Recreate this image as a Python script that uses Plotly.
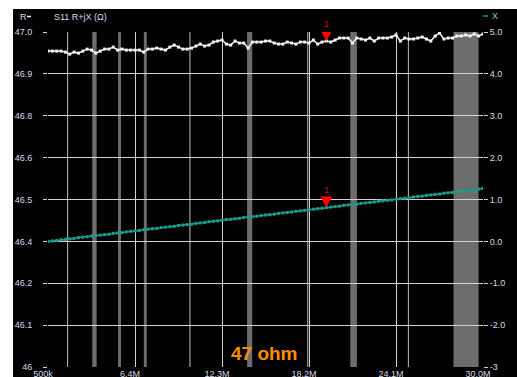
import numpy as np
import plotly.graph_objects as go

# Sweep settings (MHz)
F_START_MHZ = 0.5
F_STOP_MHZ = 30.0
N_POINTS = 101
freq_mhz = np.linspace(F_START_MHZ, F_STOP_MHZ, N_POINTS)

# S11 resistance (ohm)
resistance = [
    46.943, 46.943, 46.943, 46.943, 46.940, 46.934, 46.940, 46.937, 46.943, 46.949,
    46.946, 46.937, 46.943, 46.949, 46.949, 46.955, 46.946, 46.949, 46.946, 46.946,
    46.946, 46.946, 46.940, 46.949, 46.949, 46.952, 46.949, 46.946, 46.955, 46.961,
    46.955, 46.949, 46.949, 46.952, 46.958, 46.964, 46.958, 46.961, 46.970, 46.973,
    46.976, 46.964, 46.961, 46.973, 46.967, 46.967, 46.952, 46.970, 46.970, 46.970,
    46.973, 46.973, 46.967, 46.964, 46.964, 46.970, 46.967, 46.964, 46.970, 46.970,
    46.967, 46.976, 46.964, 46.970, 46.973, 46.970, 46.976, 46.982, 46.982, 46.982,
    46.967, 46.982, 46.979, 46.976, 46.982, 46.973, 46.982, 46.982, 46.982, 46.985,
    46.991, 46.973, 46.982, 46.979, 46.979, 46.982, 46.985, 46.979, 46.973, 46.988,
    46.997, 46.979, 46.982, 46.982, 46.988, 46.988, 46.991, 46.988, 46.994, 46.988,
    46.994,
]

# S11 reactance (ohm)
reactance = [
    0.00, 0.01, 0.02, 0.04, 0.05, 0.06, 0.07, 0.09, 0.10, 0.11,
    0.13, 0.14, 0.15, 0.16, 0.17, 0.19, 0.20, 0.21, 0.23, 0.24,
    0.25, 0.26, 0.28, 0.29, 0.30, 0.31, 0.33, 0.34, 0.35, 0.36,
    0.38, 0.39, 0.40, 0.41, 0.43, 0.44, 0.45, 0.47, 0.48, 0.49,
    0.50, 0.52, 0.53, 0.54, 0.55, 0.57, 0.58, 0.59, 0.60, 0.62,
    0.63, 0.64, 0.65, 0.67, 0.68, 0.69, 0.70, 0.72, 0.73, 0.74,
    0.75, 0.77, 0.78, 0.79, 0.81, 0.82, 0.83, 0.84, 0.86, 0.87,
    0.88, 0.89, 0.91, 0.92, 0.93, 0.94, 0.96, 0.97, 0.98, 0.99,
    1.01, 1.02, 1.03, 1.04, 1.06, 1.07, 1.08, 1.10, 1.11, 1.12,
    1.13, 1.15, 1.16, 1.17, 1.18, 1.20, 1.21, 1.22, 1.23, 1.25,
    1.26,
]

MARKER_INDEX = 64
MARKER_LABEL = "1"

x_tick_vals = [0.5, 6.4, 12.3, 18.2, 24.1, 30.0]
x_tick_text = ["500k", "6.4M", "12.3M", "18.2M", "24.1M", "30.0M"]

r_tick_vals = [46.0, 46.125, 46.25, 46.375, 46.5, 46.625, 46.75, 46.875, 47.0]
r_tick_text = ["46", "46.1", "46.2", "46.4", "46.5", "46.6", "46.8", "46.9", "47.0"]

jx_tick_vals = [-3, -2, -1, 0, 1, 2, 3, 4, 5]
jx_tick_text = ["-3", "-2.0", "-1.0", "0.0", "1.0", "2.0", "3.0", "4.0", "5.0"]

# Amateur bands highlighted on the sweep (MHz)
ham_bands = [
    (1.81, 1.85), (3.5, 3.8), (5.25, 5.45), (7.0, 7.2), (10.1, 10.15),
    (14.0, 14.35), (18.068, 18.168), (21.0, 21.45), (24.89, 24.99), (28.0, 29.7),
]

TITLE = "S11 R+jX (\u03a9)"
NOTE = "47 ohm"

# Page geometry (pixels)
W, H = 517, 377
PL, PR, PT, PB = 48, 483, 32, 367

GRID = "#d2d2d2"
FONT_FAMILY = "Liberation Sans, Arial, sans-serif"
TICK_FONT = dict(family=FONT_FAMILY, size=9, color="#d6dbe6")
R_COLOR = "#f2f2f2"
X_COLOR = "#1a9c8a"
BAND_COLOR = "#6c6c6c"


def px_x(p):
    return (p - PL) / (PR - PL)


def px_y(p):
    return (PB - p) / (PB - PT)


fig = go.Figure()

fig.add_trace(go.Scatter(
    x=freq_mhz, y=resistance, yaxis="y", mode="lines+markers",
    line=dict(color=R_COLOR, width=1.5),
    marker=dict(symbol="square", size=3, color=R_COLOR),
    name="R", hoverinfo="skip",
))
fig.add_trace(go.Scatter(
    x=freq_mhz, y=reactance, yaxis="y2", mode="lines+markers",
    line=dict(color=X_COLOR, width=1.5),
    marker=dict(symbol="square", size=3, color=X_COLOR),
    name="X", hoverinfo="skip",
))

shapes = []
# dark panel behind the whole chart
shapes.append(dict(type="rect", xref="paper", yref="paper",
                   x0=px_x(13), x1=px_x(W + 5), y0=px_y(H + 5), y1=px_y(9),
                   fillcolor="black", line=dict(width=0), layer="below"))

for lo, hi in ham_bands:
    if hi - lo < 0.12:
        mid = (lo + hi) / 2
        shapes.append(dict(type="line", xref="x", yref="paper", x0=mid, x1=mid,
                           y0=0, y1=1, line=dict(color="#bdbdbd", width=1), layer="below"))
    else:
        shapes.append(dict(type="rect", xref="x", yref="paper", x0=lo, x1=hi,
                           y0=0, y1=1, fillcolor=BAND_COLOR, line=dict(width=0), layer="below"))

# legend dashes
shapes.append(dict(type="line", xref="paper", yref="paper",
                   x0=px_x(27), x1=px_x(31), y0=px_y(16.5), y1=px_y(16.5),
                   line=dict(color="#f0f0f0", width=1.5)))
shapes.append(dict(type="line", xref="paper", yref="paper",
                   x0=px_x(483), x1=px_x(488), y0=px_y(16), y1=px_y(16),
                   line=dict(color=X_COLOR, width=1.5)))

# marker triangles on both traces
mf = freq_mhz[MARKER_INDEX]
for yref, val in (("y", resistance[MARKER_INDEX]), ("y2", reactance[MARKER_INDEX])):
    shapes.append(dict(type="path", xref="x", yref=yref,
                       xsizemode="pixel", ysizemode="pixel", xanchor=mf, yanchor=val,
                       path="M -6,11 L 6,11 L 0,0 Z",
                       fillcolor="#ff0000", line=dict(width=0)))

annotations = [
    dict(x=px_x(18), y=px_y(17), xref="paper", yref="paper", text="R",
         showarrow=False, xanchor="left", yanchor="middle",
         font=dict(family=FONT_FAMILY, size=9, color="#d6dbe6")),
    dict(x=px_x(52), y=px_y(17), xref="paper", yref="paper", text=TITLE,
         showarrow=False, xanchor="left", yanchor="middle",
         font=dict(family=FONT_FAMILY, size=9, color="#d6dbe6")),
    dict(x=px_x(490), y=px_y(16), xref="paper", yref="paper", text="X",
         showarrow=False, xanchor="left", yanchor="middle",
         font=dict(family=FONT_FAMILY, size=9, color="#a8c4cc")),
    dict(x=px_x(264), y=px_y(353), xref="paper", yref="paper", text="<b>" + NOTE + "</b>",
         showarrow=False, xanchor="center", yanchor="middle",
         font=dict(family=FONT_FAMILY, size=19, color="#ff8c00")),
]
for yref, val in (("y", resistance[MARKER_INDEX]), ("y2", reactance[MARKER_INDEX])):
    annotations.append(dict(x=mf, y=val, xref="x", yref=yref, text=MARKER_LABEL,
                            showarrow=False, yshift=17, xanchor="center", yanchor="middle",
                            font=dict(family=FONT_FAMILY, size=9, color="#e00000")))

fig.update_layout(
    width=W, height=H,
    margin=dict(l=PL, r=W - PR, t=PT, b=H - PB, autoexpand=False),
    paper_bgcolor="white", plot_bgcolor="black",
    showlegend=False,
    shapes=shapes, annotations=annotations,
    xaxis=dict(range=[F_START_MHZ, F_STOP_MHZ], tickvals=x_tick_vals, ticktext=x_tick_text,
               showgrid=True, gridcolor=GRID, gridwidth=1, zeroline=False, showline=False,
               ticks="", tickfont=TICK_FONT, ticklabelshift=-5, ticklabelstandoff=0,
               automargin=False, fixedrange=True),
    yaxis=dict(range=[46.0, 47.0], tickvals=r_tick_vals, ticktext=r_tick_text,
               showgrid=True, gridcolor=GRID, gridwidth=1, zeroline=False, showline=False,
               ticks="outside", ticklen=4, tickcolor=GRID, tickfont=TICK_FONT,
               ticklabelstandoff=9, automargin=False, fixedrange=True),
    yaxis2=dict(range=[-3, 5], tickvals=jx_tick_vals, ticktext=jx_tick_text,
                overlaying="y", side="right", showgrid=False, zeroline=False, showline=False,
                ticks="outside", ticklen=4, tickcolor=GRID, tickfont=TICK_FONT,
                automargin=False, fixedrange=True),
)

fig.write_html("out.html", config=dict(displayModeBar=False))
